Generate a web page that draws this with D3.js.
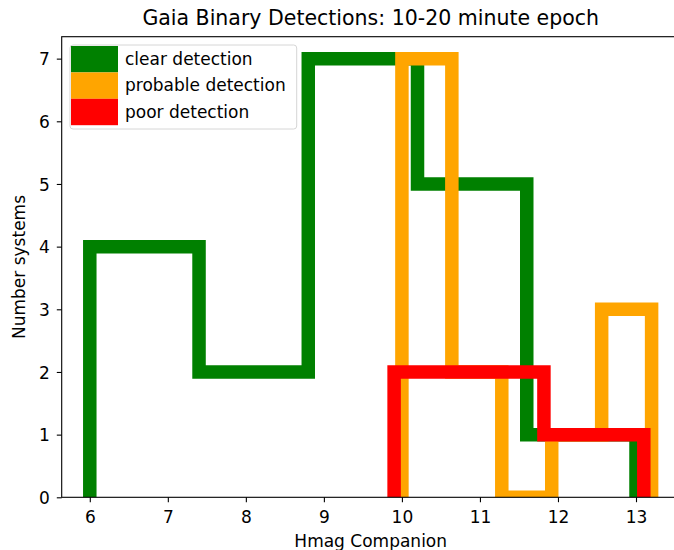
<!DOCTYPE html>
<html>
<head>
<meta charset="utf-8">
<script src="https://cdn.jsdelivr.net/npm/d3@7"></script>
<style>
  body { margin: 0; background: #fff; overflow: hidden; }
  text { font-family: "DejaVu Sans", sans-serif; fill: #000; }
</style>
</head>
<body>
<script>
// histogram data =========================================================
var series = ["clear detection", "probable detection", "poor detection"]
var colors = ["#008000", "#ffa500", "#ff0000"]

var clearEdges = [6.0, 7.4, 8.8, 10.2, 11.6, 13.0]
var clearCounts = [4, 2, 7, 5, 1]

var probableEdges = [10.0, 10.64, 11.28, 11.92, 12.56, 13.2]
var probableCounts = [7, 2, 0, 1, 3]

var poorEdges = [9.9, 10.54, 11.18, 11.82, 12.46, 13.1]
var poorCounts = [2, 2, 2, 1, 1]

var xTicks = [6, 7, 8, 9, 10, 11, 12, 13]
var yTicks = [0, 1, 2, 3, 4, 5, 6, 7]

var hists = [
  { edges: clearEdges, counts: clearCounts },
  { edges: probableEdges, counts: probableCounts },
  { edges: poorEdges, counts: poorCounts }
]

// layout =================================================================
var W = 674, H = 550
var margin = { top: 36.7, left: 61.7 }
var width = 618, height = 460.6
var lw = 13.5
var fs = "17px"

var svg = d3.select("body").append("svg")
  .attr("width", W)
  .attr("height", H)

var x = d3.scaleLinear().domain([5.64, 13.56]).range([0, width])
var y = d3.scaleLinear().domain([0, 7.35]).range([height, 0])

var g = svg.append("g").attr("transform", "translate(" + margin.left + "," + margin.top + ")")

g.append("clipPath").attr("id", "clip")
  .append("rect").attr("width", width).attr("height", height)

// step outline like matplotlib histtype='step'
function stepPoints(h) {
  var pts = [[h.edges[0], 0]]
  h.counts.forEach(function(c, i) {
    pts.push([h.edges[i], c])
    pts.push([h.edges[i + 1], c])
  })
  pts.push([h.edges[h.edges.length - 1], 0])
  return pts
}

var line = d3.line()
  .x(function(d) { return x(d[0]) })
  .y(function(d) { return y(d[1]) })

g.append("g").attr("clip-path", "url(#clip)")
  .selectAll("path")
  .data(hists)
  .enter().append("path")
  .attr("d", function(d) { return line(stepPoints(d)) })
  .style("fill", "none")
  .style("stroke", function(d, i) { return colors[i] })
  .style("stroke-width", lw)
  .style("stroke-linejoin", "miter")

// axes
var xAxis = g.append("g")
  .attr("transform", "translate(0," + height + ")")
  .call(d3.axisBottom(x).tickValues(xTicks).tickSize(4.9).tickPadding(3).tickFormat(d3.format("d")))
var yAxis = g.append("g")
  .call(d3.axisLeft(y).tickValues(yTicks).tickSize(4.9).tickPadding(7).tickFormat(d3.format("d")))

;[xAxis, yAxis].forEach(function(a) {
  a.select(".domain").remove()
  a.selectAll(".tick line").attr("stroke", "#000").attr("stroke-width", 1.1)
  a.selectAll(".tick text").style("font-size", fs).attr("fill", "#000")
})
xAxis.selectAll(".tick text").attr("dy", null).attr("y", 25.7)
yAxis.selectAll(".tick text").attr("dy", "0.36em")

// spines
g.append("rect")
  .attr("width", width).attr("height", height)
  .style("fill", "none").style("stroke", "#000").style("stroke-width", 1.1)

// labels
svg.append("text")
  .attr("x", margin.left + width / 2).attr("y", 25)
  .attr("text-anchor", "middle")
  .style("font-size", "20.5px")
  .text("Gaia Binary Detections: 10-20 minute epoch")

svg.append("text")
  .attr("x", margin.left + width / 2).attr("y", 546.5)
  .attr("text-anchor", "middle")
  .style("font-size", fs)
  .text("Hmag Companion")

svg.append("text")
  .attr("transform", "translate(25," + (margin.top + height / 2) + ") rotate(-90)")
  .attr("text-anchor", "middle")
  .style("font-size", fs)
  .text("Number systems")

// legend
var legend = svg.append("g")
legend.append("rect")
  .attr("x", 70).attr("y", 45).attr("width", 226.7).attr("height", 84)
  .attr("rx", 3)
  .style("fill", "#fff").style("fill-opacity", 0.8)
  .style("stroke", "#d6d6d6").style("stroke-width", 1)

var row = legend.selectAll(".row")
  .data(series)
  .enter().append("g")
  .attr("transform", function(d, i) { return "translate(71," + (46 + i * 26.4) + ")" })

row.append("rect")
  .attr("width", 47).attr("height", 26.4)
  .style("fill", function(d, i) { return colors[i] })

row.append("text")
  .attr("x", 54).attr("y", 19)
  .style("font-size", fs)
  .text(function(d) { return d })
</script>
</body>
</html>
